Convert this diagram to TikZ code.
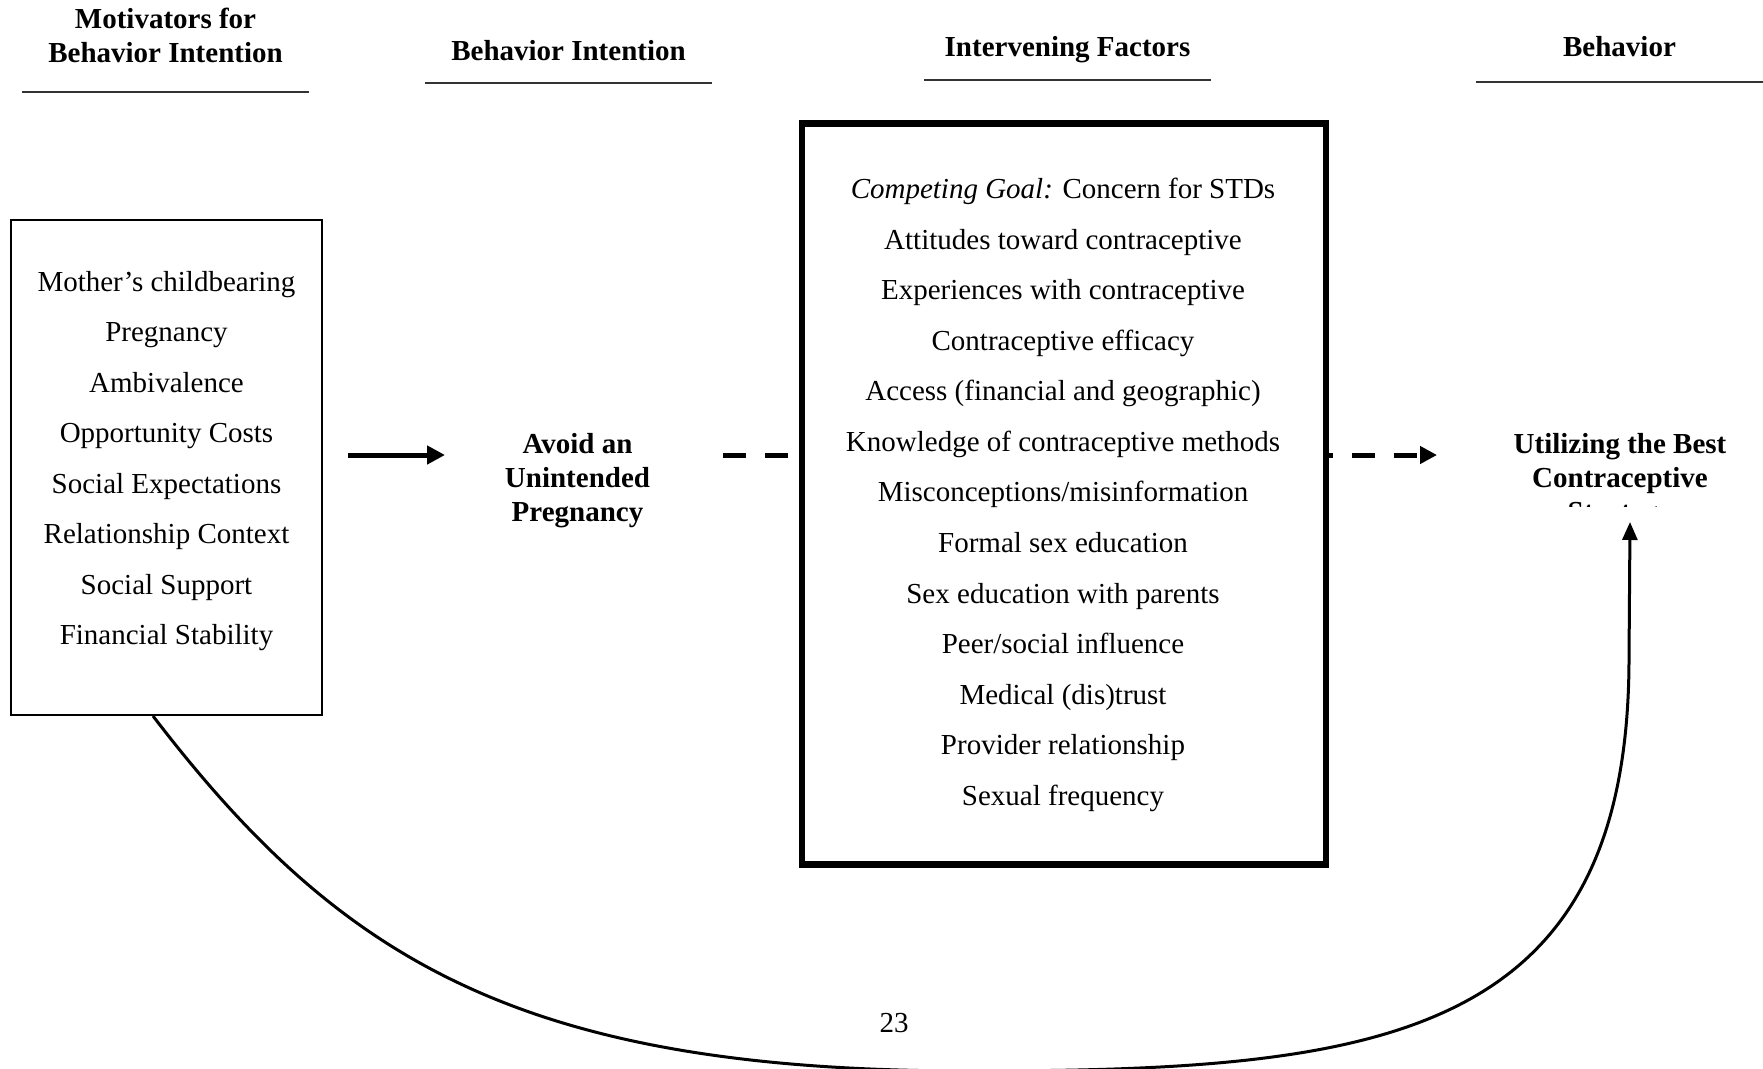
\documentclass[tikz,border=0pt]{standalone}
\usepackage{fontspec}
\setmainfont{Liberation Serif}
\usetikzlibrary{arrows.meta}
\begin{document}
\begin{tikzpicture}[x=1pt,y=-1pt,
  every node/.style={inner sep=0pt, outer sep=0pt},
  hdr/.style={anchor=base, font=\fontsize{29}{34}\selectfont\bfseries},
  item/.style={anchor=base, font=\fontsize{29}{35}\selectfont},
  hrule/.style={line width=2pt, black!80},
  thinbox/.style={draw, line width=2.5pt},
  thickbox/.style={draw, line width=6.5pt},
  solidarr/.style={line width=5pt, -{Triangle[length=18pt,width=18pt]}},
  dashl/.style={line width=5pt, dash pattern=on 23pt off 19pt},
  dasharr/.style={line width=5pt, dash pattern=on 23pt off 19pt, dash phase=16pt, -{Triangle[length=17pt,width=17pt]}},
  curvearr/.style={line width=3pt, -{Triangle[length=18pt,width=15pt]}}
]
\clip (0,0) rectangle (1763,1068);
\fill[white] (0,0) rectangle (1763,1068);

% headers
\node[hdr] (h1a) at (165.5,28) {Motivators for};
\node[hdr] (h1b) at (165.5,62) {Behavior Intention};
\draw[hrule] (22,92) -- (309,92);
\node[hdr] (h2) at (568.5,60) {Behavior Intention};
\draw[hrule] (425,83) -- (712,83);
\node[hdr] (h3) at (1067.5,56) {Intervening Factors};
\draw[hrule] (924,80) -- (1211,80);
\node[hdr] (h4) at (1619.5,56) {Behavior};
\draw[hrule] (1476,82) -- (1763,82);

% left box
\node[thinbox, minimum width=311pt, minimum height=495pt] (lbox) at (166.5,467.5) {};
\foreach \t [count=\i from 0] in {Mother’s childbearing, Pregnancy, Ambivalence, Opportunity Costs, Social Expectations, Relationship Context, Social Support, Financial Stability}
  \node[item] (l\i) at (166.5, 291+\i*50.57) {\t};

% middle box
\node[thickbox, minimum width=524pt, minimum height=741pt] (mbox) at (1064,494) {};
\node[item] (m0) at (1063,198.5) {{\itshape Competing Goal:} Concern for STDs};
\foreach \t [count=\i from 1] in {Attitudes toward contraceptive, Experiences with contraceptive, Contraceptive efficacy, Access (financial and geographic), Knowledge of contraceptive methods, Misconceptions/misinformation, Formal sex education, Sex education with parents, Peer/social influence, Medical (dis)trust, Provider relationship, Sexual frequency}
  \node[item] (m\i) at (1063, 198.5+\i*50.57) {\t};

% behavior intention
\node[hdr] (av1) at (577.5,453) {Avoid an};
\node[hdr] (av2) at (577.5,487) {Unintended};
\node[hdr] (av3) at (577.5,521) {Pregnancy};

% behavior
\node[hdr] (ut1) at (1620,453) {Utilizing the Best};
\node[hdr] (ut2) at (1620,487) {Contraceptive};
\begin{scope}
  \clip (1450,440) rectangle (1763,506);
  \node[hdr] (ut3) at (1620,521) {Strategy};
\end{scope}

% page number
\node[item] (pg) at (894,1032) {23};

% connectors
\coordinate (a1) at (348,455);
\coordinate (a2) at (445,455);
\draw[solidarr] (a1) -- (a2);

\coordinate (d1) at (723,455);
\draw[dashl] (d1) -- (mbox.west |- d1);

\coordinate (d2) at (1437,455);
\draw[dasharr] (mbox.east |- d2) -- (d2);

\coordinate (cstart) at (153,716);
\coordinate (ctip) at (1630,522);
\draw[curvearr] (cstart) .. controls (340,960) and (520,1071) .. (970,1071)
  .. controls (1380,1071) and (1628,1040) .. (1629,660) -- (ctip);
\end{tikzpicture}
\end{document}
